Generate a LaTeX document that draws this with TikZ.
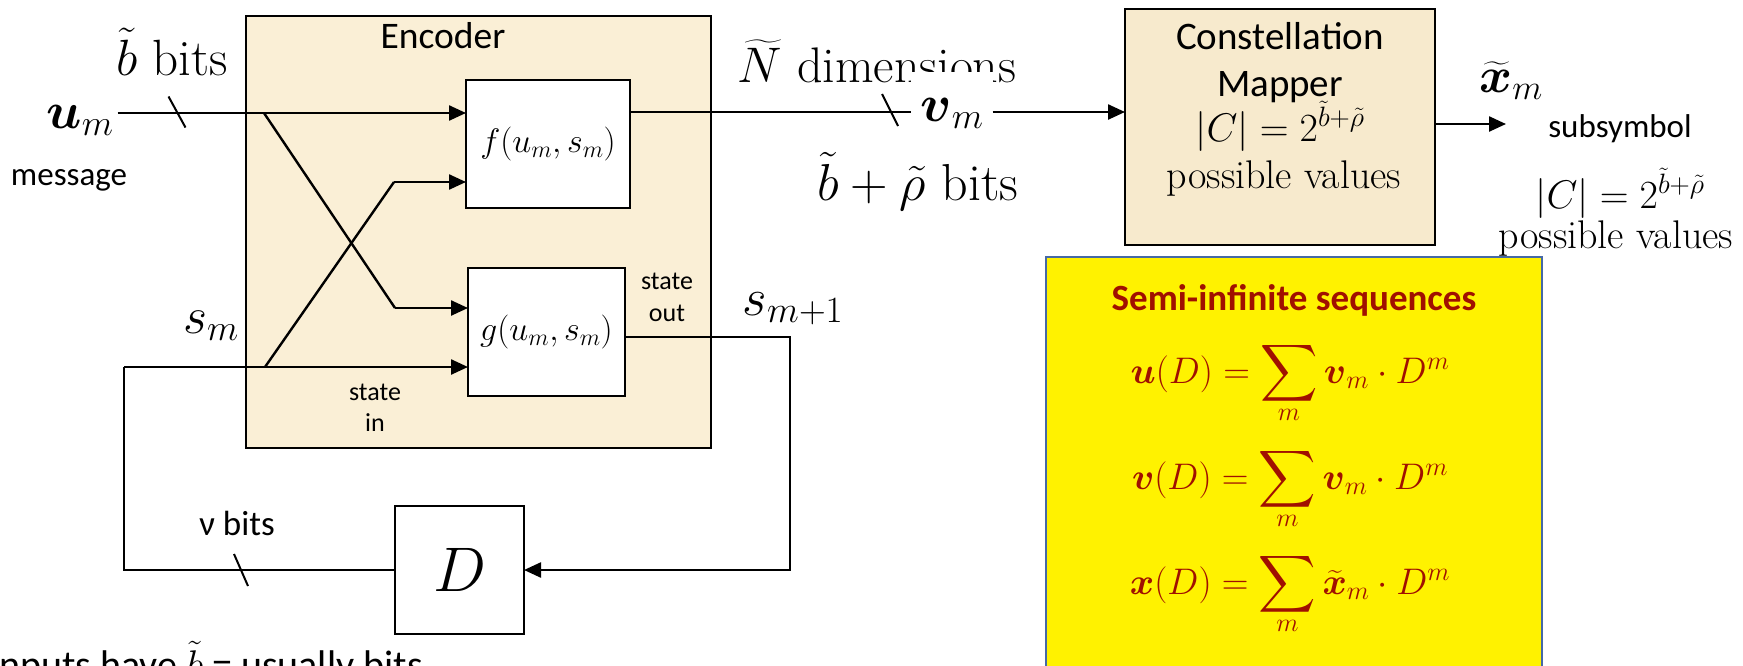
\RequirePackage{fix-cm}
\documentclass[tikz,border=0pt]{standalone}
\usepackage{amsmath}
\usepackage{fontspec}
\newfontfamily\calibri{Carlito}
\usetikzlibrary{arrows.meta,calc}
\newcommand{\fsz}[1]{\fontsize{#1}{#1}\selectfont}
\newcommand{\BigSumOp}{\mathop{\vcenter{\hbox{\scalebox{1.6}{$\displaystyle\sum$}}}}\limits}
\definecolor{beige}{RGB}{250,239,214}
\definecolor{mapbg}{RGB}{247,234,205}
\definecolor{eqred}{RGB}{160,16,0}
\definecolor{yborder}{RGB}{70,105,165}
\begin{document}
\begin{tikzpicture}[x=1pt,y=-1pt,
  blk/.style={draw, line width=2.5pt, inner sep=0pt, outer sep=0pt, anchor=north west},
  conn/.style={line width=2.4pt},
  arr/.style={conn, -{Triangle[length=17pt,width=15pt]}},
  tickline/.style={line width=2pt},
  lbl/.style={inner sep=0pt, anchor=base},
  mathlbl/.style={lbl, font=\fsz{#1}},
  sans/.style={lbl, font=\calibri\fsz{#1}},
  serif/.style={lbl, font=\fsz{#1}},
]
\useasboundingbox (0,0) rectangle (1743,665);

% boxes
\node[blk, fill=beige, minimum width=465pt, minimum height=432pt] (enc) at (246,16) {};
\node[blk, fill=white, minimum width=164pt, minimum height=128pt] (fbox) at (466,80) {};
\node[blk, fill=white, minimum width=157pt, minimum height=128pt] (gbox) at (468,268) {};
\node[blk, fill=white, minimum width=129pt, minimum height=128pt] (dbox) at (395,506) {};
\node[blk, fill=mapbg, minimum width=310pt, minimum height=236pt] (mapper) at (1125,9) {};
\node[blk, draw=yborder, fill=yellow, minimum width=496pt, minimum height=460pt] (ybox) at (1046,257) {};

% coordinates
\coordinate (fin1) at (466,113);
\coordinate (fin2) at (466,182);
\coordinate (gin1) at (468,308);
\coordinate (gin2) at (468,367);
\coordinate (gout) at (625,337);
\coordinate (fout) at (630,112);
\coordinate (xa) at (264,113);
\coordinate (xb) at (395,308);
\coordinate (xc) at (265,367);
\coordinate (xd) at (394,182);
\coordinate (sl) at (124,367);
\coordinate (sr) at (790,337);
\coordinate (xout) at (1506,124);

% labels
\node[mathlbl=52, inner sep=4pt] (um) at (80,128) {$\boldsymbol{u}_m$};
\node[serif=51] (bbits) at (172,75) {$\tilde b$ bits};
\node[sans=33] (msg) at (69,185) {message};
\node[sans=37.5] (enclbl) at (443,48) {Encoder};
\node[font=\fsz{34}, inner sep=0pt] (flbl) at (fbox.center) {$f(u_m,s_m)$};
\node[font=\fsz{34}, inner sep=0pt] (glbl) at (gbox.center) {$g(u_m,s_m)$};
\node[mathlbl=52] (sm) at (211,333) {$s_m$};
\node[mathlbl=53] (smp) at (793,315) {$s_{m+1}$};
\node[font=\calibri\fontsize{26}{32}\selectfont, align=center, inner sep=0pt] (sout) at (667,297) {state\\out};
\node[font=\calibri\fontsize{26}{31}\selectfont, align=center, inner sep=0pt] (sin) at (375,408) {state\\in};
\node[sans=35] (nubits) at (237,535) {ν bits};
\node[font=\fsz{63}, inner sep=0pt] (dlbl) at (dbox.center) {$D$};
\node[serif=50] (ndim) at (877,82) {$\widetilde{N}$ dimensions};
\node[mathlbl=52, fill=white, inner xsep=9pt, inner ysep=3pt, text height=46pt] (vm) at (952,121) {$\boldsymbol{v}_m$};
\node[serif=52] (brho) at (918,200) {$\tilde b+\tilde\rho$ bits};
\node[sans=39] (m1) at (1280,49) {Constellation};
\node[sans=39] (m2) at (1280,96) {Mapper};
\node[serif=40] (m3) at (1280,141) {$|C|=2^{\tilde b+\tilde\rho}$};
\node[serif=40] (m4) at (1284,188) {possible values};
\node[mathlbl=50] (xm) at (1511,92) {$\boldsymbol{\widetilde{x}}_m$};
\node[sans=33] (subs) at (1620,137) {subsymbol};
\node[serif=40] (c2) at (1620,208) {$|C|=2^{\tilde b+\tilde\rho}$};
\node[serif=40] (pv2) at (1616,248) {possible values};
\node[lbl, font=\calibri\bfseries\fsz{37}, text=eqred] (title) at (1294,310) {Semi-infinite sequences};
\node[serif=37, text=eqred] (eq1) at (1290,383) {$\boldsymbol{u}(D)=\BigSumOp_m \boldsymbol{v}_m\cdot D^m$};
\node[serif=37, text=eqred] (eq2) at (1290,489) {$\boldsymbol{v}(D)=\BigSumOp_m \boldsymbol{v}_m\cdot D^m$};
\node[serif=37, text=eqred] (eq3) at (1290,594) {$\boldsymbol{x}(D)=\BigSumOp_m \boldsymbol{\widetilde{x}}_m\cdot D^m$};
\node[sans=40, anchor=base west] (inputs) at (-11,678) {Inputs have $\tilde b$ = usually bits};

% connectors
\draw[arr] (um.east |- fin1) -- (fin1);
\draw[conn] (xa) -- (xb);
\draw[arr] (xb) -- (gin1);
\draw[arr] (sl) -- (gin2);
\draw[conn] (xc) -- (xd);
\draw[arr] (xd) -- (fin2);
\draw[conn] (sl) -- (sl |- dbox.west) -- (dbox.west);
\draw[arr] (gout) -- (sr) -- (sr |- dbox.east) -- (dbox.east);
\draw[conn] (fout) -- (vm.west |- fout);
\draw[arr] (vm.east |- fout) -- (mapper.west |- fout);
\draw[arr] (mapper.east |- xout) -- (xout);

% bus ticks
\draw[tickline] (177,112) +(-8.5,-15.5) -- +(8.5,15.5);
\draw[tickline] (890,110) +(-8,-16) -- +(8,16);
\draw[tickline] (241,570) +(-7,-16) -- +(7,16);
\end{tikzpicture}
\end{document}
